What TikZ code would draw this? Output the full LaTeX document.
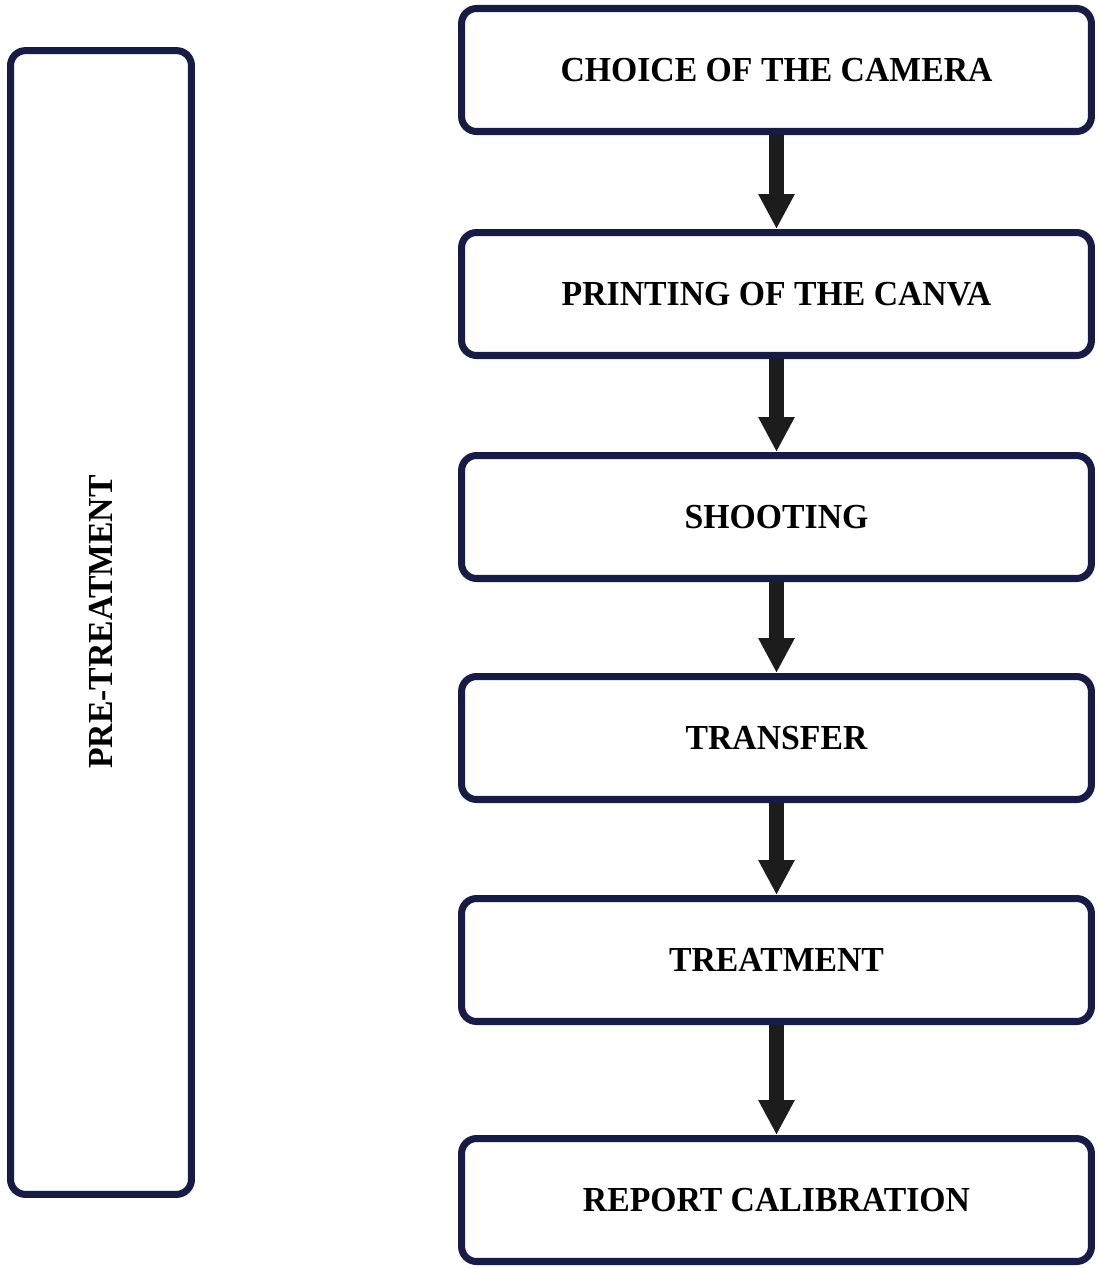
\documentclass[tikz,border=0pt]{standalone}
\usepackage{fontspec}
\setmainfont{Liberation Serif}
\newfontfamily\boxfont[FakeStretch=0.96]{Liberation Serif}
\usetikzlibrary{arrows.meta}
\definecolor{frame}{HTML}{161C45}
\definecolor{arrowfill}{HTML}{1C1C1C}
\begin{document}
\begin{tikzpicture}[x=0.02cm,y=-0.02cm,
  label/.style={font=\boxfont\fontsize{20}{22}\selectfont\bfseries},
  stepbox/.style={label, draw=frame, line width=4pt, rounded corners=0.3cm,
    minimum width=12.6cm, minimum height=2.46cm, inner sep=0pt, fill=white},
  sidebox/.style={draw=frame, line width=4pt, rounded corners=0.3cm,
    minimum width=3.62cm, minimum height=22.88cm, inner sep=0pt, fill=white},
  flow/.style={draw=arrowfill, line width=0.3cm,
    -{Triangle[width=0.68cm, length=0.7cm]}}]
\useasboundingbox (0,0) rectangle (1100,1268);
\node[sidebox] (side) at (101,622.5) {};
\node[label, rotate=90] (sidelabel) at (101,622) {PRE-TREATMENT};
\node[stepbox] (b1) at (776.5,70) {CHOICE OF THE CAMERA};
\node[stepbox] (b2) at (776.5,294) {PRINTING OF THE CANVA};
\node[stepbox] (b3) at (776.5,517) {SHOOTING};
\node[stepbox] (b4) at (776.5,738) {TRANSFER};
\node[stepbox] (b5) at (776.5,960) {TREATMENT};
\node[stepbox] (b6) at (776.5,1200) {REPORT CALIBRATION};
\foreach \a/\b in {b1/b2,b2/b3,b3/b4,b4/b5,b5/b6}
  \draw[flow] (\a.south) -- (\b.north);
\end{tikzpicture}
\end{document}
